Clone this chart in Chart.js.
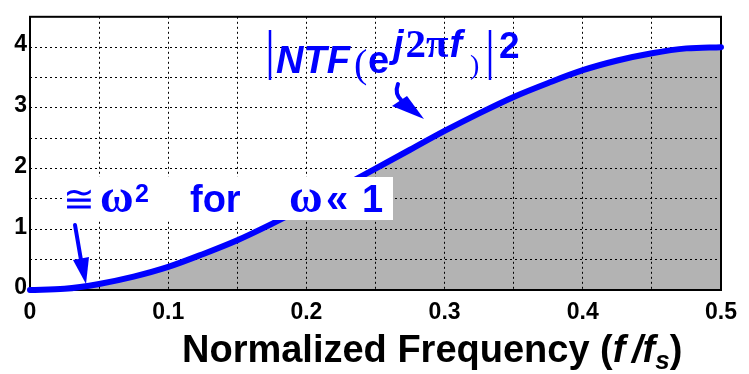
<!DOCTYPE html>
<html>
<head>
<meta charset="utf-8">
<script src="https://cdn.jsdelivr.net/npm/chart.js@4.4.1/dist/chart.umd.min.js"></script>
<style>
  html, body { margin: 0; padding: 0; background: #fff; }
  #wrap { width: 749px; height: 374px; position: relative; }
</style>
</head>
<body>
<div id="wrap"><canvas id="ntfChart"></canvas></div>
<script>
// values
const freqs = [0, 0.025, 0.05, 0.075, 0.1, 0.125, 0.15, 0.175, 0.2, 0.225, 0.25,
               0.275, 0.3, 0.325, 0.35, 0.375, 0.4, 0.425, 0.45, 0.475, 0.5];
const ntfValues = [0, 0.02, 0.10, 0.22, 0.38, 0.59, 0.82, 1.09, 1.38, 1.69, 2.0,
                   2.31, 2.62, 2.91, 3.18, 3.41, 3.62, 3.78, 3.90, 3.98, 4.0];
const xTickLabels = ['0', '0.1', '0.2', '0.3', '0.4', '0.5'];
const yTickLabels = ['0', '1', '2', '3', '4'];

const BLUE = '#0000ff';
const SANS = '"Liberation Sans", Arial, sans-serif';
const SERIF = '"Liberation Serif", "DejaVu Serif", serif';

function pickLabel(labels, v) {
    const hit = labels.find(l => Math.abs(parseFloat(l) - v) < 1e-6);
    return hit === undefined ? '' : hit;
}

function txt(ctx, s, x, y, font, color) {
    ctx.font = font;
    ctx.fillStyle = color || BLUE;
    ctx.fillText(s, x, y);
    return x + ctx.measureText(s).width;
}

// frame round the plot area, over the grid but under the curve
const framePlugin = {
    id: 'frame',
    beforeDatasetsDraw(chart) {
        const {ctx, chartArea: a} = chart;
        ctx.save();
        ctx.strokeStyle = '#000';
        ctx.lineWidth = 2;
        ctx.strokeRect(a.left, a.top, a.right - a.left, a.bottom - a.top);
        ctx.restore();
    }
};

// labels, arrows, axis title
const notesPlugin = {
    id: 'notes',
    afterDatasetsDraw(chart) {
        const ctx = chart.ctx;
        ctx.save();
        ctx.textBaseline = 'alphabetic';
        ctx.textAlign = 'left';

        // |NTF(e^{j2pi f})|^2
        ctx.strokeStyle = BLUE;
        ctx.lineWidth = 2.5;
        ctx.beginPath();
        ctx.moveTo(270, 30); ctx.lineTo(270, 80);
        ctx.moveTo(490, 30); ctx.lineTo(490, 80);
        ctx.stroke();
        txt(ctx, 'NTF', 276, 73, 'italic bold 38px ' + SANS);
        txt(ctx, '(', 354, 77, '40px ' + SERIF);
        txt(ctx, 'e', 368, 73, 'bold 38px ' + SANS);
        let x = txt(ctx, 'j', 393, 57, 'italic bold 38px ' + SANS);
        x = txt(ctx, '2\u03c0', x + 2, 57, 'bold 41px ' + SERIF);
        x = txt(ctx, 'f', x + 1, 57, 'italic bold 38px ' + SANS);
        txt(ctx, ')', Math.max(x, 470), 74, '28px ' + SERIF);
        txt(ctx, '2', 499, 58, 'bold 37px ' + SANS);

        // curved arrow
        ctx.lineWidth = 4;
        ctx.lineCap = 'round';
        ctx.beginPath();
        ctx.moveTo(398, 84);
        ctx.quadraticCurveTo(394, 94, 402, 101);
        ctx.stroke();
        ctx.fillStyle = BLUE;
        ctx.beginPath();
        ctx.moveTo(424, 119); ctx.lineTo(392, 106); ctx.lineTo(407, 96);
        ctx.closePath(); ctx.fill();

        // white box with approximation note
        ctx.fillStyle = '#fff';
        ctx.fillRect(63, 177, 330, 43);
        txt(ctx, '\u2245', 63, 212, '38px ' + SERIF);
        txt(ctx, '\u03c9', 100, 212, 'bold 46px ' + SERIF);
        txt(ctx, '2', 135, 202, 'bold 25px ' + SANS);
        txt(ctx, 'for', 190, 212, 'bold 38px ' + SANS);
        txt(ctx, '\u03c9', 289, 212, 'bold 46px ' + SERIF);
        txt(ctx, '\u00ab', 326, 212, 'bold 40px ' + SANS);
        txt(ctx, '1', 362, 212, 'bold 38px ' + SANS);

        // straight arrow
        ctx.strokeStyle = BLUE;
        ctx.lineWidth = 4;
        ctx.beginPath();
        ctx.moveTo(75, 225); ctx.lineTo(81, 260);
        ctx.stroke();
        ctx.fillStyle = BLUE;
        ctx.beginPath();
        ctx.moveTo(86, 284); ctx.lineTo(89, 257); ctx.lineTo(73, 260);
        ctx.closePath(); ctx.fill();

        // x axis title
        const base = 362;
        const F = 'bold 38px ' + SANS, FI = 'italic bold 38px ' + SANS;
        x = txt(ctx, 'Normalized Frequency (', 182, base, F, '#000');
        x = txt(ctx, 'f', x, base, FI, '#000');
        x = txt(ctx, ' /', x - 4, base, FI, '#000');
        x = txt(ctx, 'f', x, base, FI, '#000');
        x = txt(ctx, 's', x, base + 7, 'italic bold 26px ' + SANS, '#000');
        txt(ctx, ')', x, base, F, '#000');
        ctx.restore();
    }
};

const points = freqs.map((f, i) => ({x: f, y: ntfValues[i]}));

new Chart(document.getElementById('ntfChart'), {
    type: 'line',
    data: {
        datasets: [{
            data: points,
            borderColor: BLUE,
            backgroundColor: '#b3b3b3',
            borderWidth: 6,
            borderCapStyle: 'round',
            fill: 'origin',
            pointRadius: 0,
            cubicInterpolationMode: 'monotone',
            clip: false
        }]
    },
    options: {
        responsive: true,
        maintainAspectRatio: false,
        animation: false,
        layout: {padding: {top: 9, right: 28, left: 0, bottom: 0}},
        plugins: {
            legend: {display: false},
            tooltip: {enabled: false},
            filler: {drawTime: 'beforeDraw'}
        },
        scales: {
            x: {
                type: 'linear',
                min: 0, max: 0.5,
                afterFit: s => { s.height = 84; },
                grid: {color: '#000', lineWidth: 1, drawTicks: false},
                border: {display: false, dash: [2, 3]},
                ticks: {
                    stepSize: 0.05,
                    autoSkip: false,
                    maxRotation: 0,
                    padding: 9,
                    color: '#000',
                    font: {family: SANS, size: 23, weight: 'bold'},
                    callback: v => pickLabel(xTickLabels, v)
                }
            },
            y: {
                min: 0, max: 4.5,
                afterFit: s => { s.width = 30; },
                grid: {color: '#000', lineWidth: 1, drawTicks: false},
                border: {display: false, dash: [2, 3]},
                ticks: {
                    stepSize: 0.5,
                    autoSkip: false,
                    padding: 3,
                    labelOffset: -2,
                    color: '#000',
                    font: {family: SANS, size: 23, weight: 'bold'},
                    callback: v => pickLabel(yTickLabels, v)
                }
            }
        }
    },
    plugins: [framePlugin, notesPlugin]
});
</script>
</body>
</html>
